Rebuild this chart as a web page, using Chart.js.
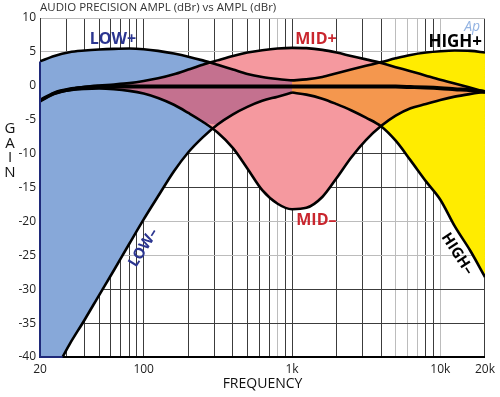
<!DOCTYPE html>
<html>
<head>
<meta charset="utf-8">
<script src="https://cdn.jsdelivr.net/npm/chart.js@4"></script>
<style>
html, body { margin: 0; padding: 0; background: #fff; }
#wrap { width: 500px; height: 397px; }
</style>
</head>
<body>
<div id="wrap"><canvas id="eq"></canvas></div>
<script>
// frequency points (Hz) used by every curve
const freqs = [20, 25, 31.5, 40, 50, 63, 80, 100, 125, 160, 200, 250, 315, 400, 500, 630, 800,
	1000, 1250, 1600, 2000, 2500, 3150, 4000, 5000, 6300, 8000, 10000, 12500, 16000, 20000];

// full range curves (dB)
const flat = [-2.2, -1.1, -0.55, -0.3, -0.15, -0.1, -0.1, -0.1, -0.1, -0.1, -0.1, -0.1, -0.1, -0.1, -0.1, -0.1, -0.1,
	-0.1, -0.1, -0.1, -0.1, -0.1, -0.1, -0.1, -0.12, -0.18, -0.25, -0.35, -0.5, -0.65, -0.9];
const midPlus = [-2.2, -1.05, -0.5, -0.15, 0.05, 0.2, 0.4, 0.7, 1.1, 1.7, 2.4, 3.1, 3.75, 4.4, 4.9, 5.25, 5.5,
	5.6, 5.55, 5.3, 4.9, 4.4, 3.9, 3.35, 2.75, 2.15, 1.5, 0.9, 0.35, -0.3, -0.9];
const midMinus = [-2.2, -1.15, -0.65, -0.45, -0.4, -0.5, -0.75, -1.15, -1.8, -2.8, -4.0, -5.3, -6.9, -9.2, -12.2, -15.4, -17.4,
	-18.2, -18.0, -16.4, -13.6, -10.6, -8.0, -5.9, -4.4, -3.3, -2.7, -2.1, -1.6, -1.2, -0.9];

// low shelf, 20 Hz .. 1 kHz
const lowPlus = [3.6, 4.4, 4.95, 5.2, 5.35, 5.45, 5.5, 5.4, 5.15, 4.75, 4.3, 3.75, 3.1, 2.4, 1.75, 1.3, 1.0, 0.8];
const lowMinus = [-45.5, -42.2, -38.2, -34.5, -30.9, -27.2, -23.3, -19.7, -16.3, -12.6, -9.8, -7.6, -5.7, -4.2, -3.1, -2.2, -1.6, -1.0];

// high shelf, 1 kHz .. 20 kHz
const highPlus = [0.8, 0.95, 1.3, 1.85, 2.4, 2.95, 3.5, 4.05, 4.55, 4.9, 5.1, 5.2, 5.15, 4.9];
const highMinus = [-1.0, -1.3, -1.9, -2.7, -3.6, -4.7, -6.0, -8.1, -11.0, -14.1, -16.8, -20.7, -24.4, -28.2];

// axes
const gridFreqs = [20, 30, 40, 50, 60, 70, 80, 90, 100, 200, 300, 400, 500, 600, 700, 800, 900,
	1000, 2000, 3000, 4000, 5000, 6000, 7000, 8000, 9000, 10000, 20000];
const xTicks = [20, 100, 1000, 10000, 20000];
const xLabels = ['20', '100', '1k', '10k', '20k'];
const yTicks = [-40, -35, -30, -25, -20, -15, -10, -5, 0, 5, 10];
const grayX = [800, 5000, 6000, 7000, 10000];
const grayY = [10, 5, -20, -25];

const FONT = "'Open Sans', 'DejaVu Sans', sans-serif";

const lowFreqs = freqs.slice(0, lowPlus.length);
const highFreqs = freqs.slice(freqs.length - highPlus.length);
const midOffset = freqs.length - highPlus.length;

function pts(xs, ys) {
	return xs.map((f, i) => ({x: f, y: ys[i]}));
}

// overlap areas (blue+pink, pink+yellow)
const purpleTop = lowPlus.map((v, i) => Math.min(v, midPlus[i]));
const purpleBot = lowMinus.map((v, i) => Math.max(v, midMinus[i]));
const orangeTop = highPlus.map((v, i) => Math.min(v, midPlus[i + midOffset]));
const orangeBot = highMinus.map((v, i) => Math.max(v, midMinus[i + midOffset]));

const CLEAR = 'rgba(0,0,0,0)';
const LW = 2.6;

function area(data, color, target) {
	return {data: data, borderColor: CLEAR, borderWidth: 0, backgroundColor: color,
		fill: target == null ? false : {target: target}};
}
function curve(data, width, color, target) {
	return {data: data, borderColor: '#000', borderWidth: width, backgroundColor: color || CLEAR,
		fill: target == null ? false : {target: target}};
}

const datasets = [
	area(pts(lowFreqs, purpleTop), '#c4718f', 1),
	area(pts(lowFreqs, purpleBot), CLEAR),
	area(pts(highFreqs, orangeTop), '#f4974e', 3),
	area(pts(highFreqs, orangeBot), CLEAR),
	curve(pts(freqs, midPlus), LW, '#f5999f', 5),
	curve(pts(freqs, midMinus), LW),
	curve(pts(lowFreqs, lowPlus), LW, '#87a8d9', 7),
	curve(pts(lowFreqs, lowMinus), LW),
	curve(pts(highFreqs, highPlus), LW, '#ffec00', 9),
	curve(pts(highFreqs, highMinus), LW),
	curve(pts(freqs, flat), 4)
];

const bandLabels = [
	{text: 'LOW+', f: 62, db: 6.8, color: '#2b3590', size: 16, rot: 0},
	{text: 'MID+', f: 1450, db: 6.8, color: '#c9262e', size: 16, rot: 0},
	{text: 'HIGH+', f: 12600, db: 6.4, color: '#000', size: 17, rot: 0},
	{text: 'MID\u2013', f: 1460, db: -19.8, color: '#c9262e', size: 16, rot: 0},
	{text: 'LOW\u2013', f: 100, db: -23.9, color: '#2b3590', size: 15, rot: -58},
	{text: 'HIGH\u2013', f: 13000, db: -24.8, color: '#000', size: 15, rot: 57}
];

// where the low cut curve leaves the bottom of the plot
function lowCutFloor(yMin) {
	for (let i = 1; i < lowMinus.length; i++) {
		if (lowMinus[i] >= yMin) {
			const t = (yMin - lowMinus[i - 1]) / (lowMinus[i] - lowMinus[i - 1]);
			return Math.pow(10, Math.log10(lowFreqs[i - 1]) + t * (Math.log10(lowFreqs[i]) - Math.log10(lowFreqs[i - 1])));
		}
	}
	return lowFreqs[0];
}

const decor = {
	id: 'decor',
	afterDraw(chart) {
		const ctx = chart.ctx;
		const xs = chart.scales.x, ys = chart.scales.y;
		const a = chart.chartArea;
		ctx.save();

		// navy edge round the blue area
		ctx.strokeStyle = '#1f2a7a';
		ctx.lineWidth = 2;
		ctx.beginPath();
		ctx.moveTo(a.left, ys.getPixelForValue(lowPlus[0]));
		ctx.lineTo(a.left, a.bottom);
		ctx.lineTo(xs.getPixelForValue(lowCutFloor(ys.min)), a.bottom);
		ctx.stroke();

		// title
		ctx.fillStyle = '#333';
		ctx.font = '11.5px ' + FONT;
		ctx.textAlign = 'left';
		ctx.textBaseline = 'middle';
		ctx.fillText('AUDIO PRECISION AMPL (dBr) vs AMPL (dBr)', a.left, 8);

		// axis titles
		ctx.fillStyle = '#111';
		ctx.font = '14px ' + FONT;
		ctx.textAlign = 'center';
		ctx.fillText('FREQUENCY', (a.left + a.right) / 2, 384);
		const gain = ['G', 'A', 'I', 'N'];
		ctx.font = '15px ' + FONT;
		gain.forEach((ch, i) => ctx.fillText(ch, 10, 129 + i * 14.6));

		// band names
		bandLabels.forEach(l => {
			ctx.save();
			ctx.translate(xs.getPixelForValue(l.f), ys.getPixelForValue(l.db));
			ctx.rotate(l.rot * Math.PI / 180);
			ctx.font = 'bold ' + l.size + 'px ' + FONT;
			ctx.fillStyle = l.color;
			ctx.fillText(l.text, 0, 0);
			ctx.restore();
		});

		// Ap logo
		ctx.font = 'italic 14px ' + FONT;
		ctx.fillStyle = '#93b3e2';
		ctx.fillText('Ap', xs.getPixelForValue(16400), ys.getPixelForValue(8.7));
		ctx.restore();
	}
};

new Chart(document.getElementById('eq'), {
	type: 'line',
	data: {datasets: datasets},
	options: {
		responsive: true,
		maintainAspectRatio: false,
		animation: false,
		devicePixelRatio: 1,
		layout: {padding: {left: 0, right: 11, top: 18, bottom: 0}},
		elements: {
			point: {radius: 0},
			line: {cubicInterpolationMode: 'monotone'}
		},
		plugins: {
			legend: {display: false},
			tooltip: {enabled: false},
			filler: {drawTime: 'beforeDatasetsDraw'}
		},
		scales: {
			x: {
				type: 'logarithmic',
				min: 20,
				max: 20000,
				afterBuildTicks: s => { s.ticks = gridFreqs.map(v => ({value: v})); },
				afterFit: s => { s.height = 40; },
				ticks: {
					autoSkip: false,
					maxRotation: 0,
					padding: 5,
					color: '#222',
					font: {family: FONT, size: 12},
					callback: v => {
						const i = xTicks.indexOf(v);
						return i < 0 ? '' : xLabels[i];
					}
				},
				grid: {
					drawTicks: false,
					lineWidth: 1,
					color: c => (c.tick && grayX.includes(c.tick.value)) ? '#bcbcbc' : '#3c3c3c'
				},
				border: {color: '#000', width: 2}
			},
			y: {
				min: -40,
				max: 10,
				afterBuildTicks: s => { s.ticks = yTicks.map(v => ({value: v})); },
				afterFit: s => { s.width = 40; },
				ticks: {
					padding: 4,
					color: '#222',
					font: {family: FONT, size: 12}
				},
				grid: {
					drawTicks: false,
					lineWidth: 1,
					color: c => (c.tick && grayY.includes(c.tick.value)) ? '#bcbcbc' : '#3c3c3c'
				},
				border: {color: '#3c3c3c', width: 1}
			}
		}
	},
	plugins: [decor]
});
</script>
</body>
</html>
